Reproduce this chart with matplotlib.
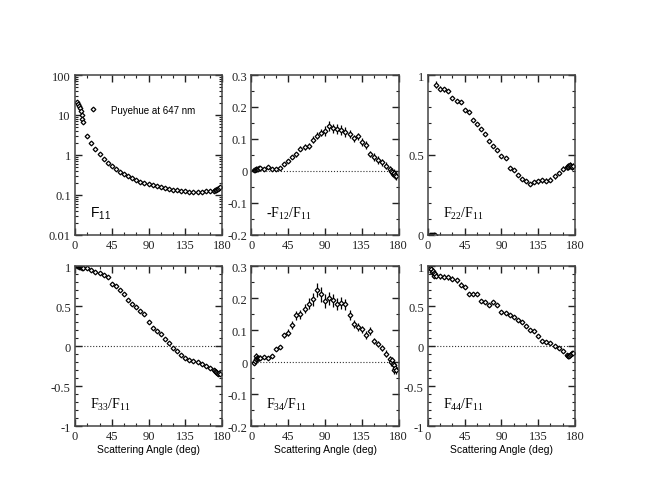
import numpy as np
import matplotlib
matplotlib.use('Agg')
import matplotlib.pyplot as plt
from matplotlib.ticker import MultipleLocator, LogLocator, FuncFormatter, NullFormatter

plt.rcParams['axes.unicode_minus'] = False
plt.rcParams['mathtext.fontset'] = 'custom'
plt.rcParams['mathtext.rm'] = 'Liberation Serif'
plt.rcParams['mathtext.sf'] = 'Liberation Sans'
plt.rcParams['mathtext.it'] = 'Liberation Serif:italic'

# scattering angles (deg)
angles = [3, 4, 5, 6, 7, 8, 9, 10,
          15, 20, 25, 30, 35, 40, 45, 50, 55, 60, 65, 70, 75, 80, 85, 90,
          95, 100, 105, 110, 115, 120, 125, 130, 135, 140, 145, 150, 155, 160,
          165, 170, 171, 172, 173, 174, 175, 176, 177]

f11 = [21, 19, 17, 15, 12.5, 10, 8, 6.5,
       3.0, 1.98, 1.41, 1.06, 0.80, 0.63, 0.52, 0.44, 0.38, 0.33, 0.29, 0.26, 0.237, 0.215, 0.20, 0.185,
       0.175, 0.165, 0.155, 0.147, 0.141, 0.135, 0.130, 0.126, 0.123, 0.120, 0.120, 0.120, 0.120, 0.123,
       0.123, 0.128, 0.130, 0.133, 0.136, 0.140, 0.145, 0.150, 0.155]

f12 = [0.003, 0.004, 0.005, 0.006, 0.006, 0.007, 0.008, 0.008,
       0.006, 0.011, 0.007, 0.007, 0.009, 0.022, 0.032, 0.045, 0.052, 0.069, 0.076, 0.079, 0.098, 0.110, 0.120, 0.125,
       0.141, 0.133, 0.131, 0.129, 0.123, 0.115, 0.102, 0.108, 0.090, 0.081, 0.053, 0.043, 0.035, 0.027,
       0.017, 0.005, 0.000, -0.003, -0.008, -0.010, -0.005, -0.012, -0.015]
f12_err = [0.004, 0.004, 0.004, 0.004, 0.004, 0.004, 0.004, 0.004,
           0.004, 0.004, 0.004, 0.004, 0.004, 0.006, 0.006, 0.006, 0.007, 0.008, 0.009, 0.010, 0.010, 0.011, 0.012, 0.015,
           0.015, 0.015, 0.015, 0.015, 0.016, 0.012, 0.010, 0.010, 0.012, 0.012, 0.010, 0.012, 0.012, 0.010,
           0.010, 0.010, 0.010, 0.012, 0.012, 0.012, 0.012, 0.012, 0.012]

f22 = [0.0, 0.0, 0.0, 0.0, 0.0, 0.0, 0.0, 0.94,
       0.915, 0.91, 0.90, 0.858, 0.838, 0.83, 0.783, 0.767, 0.721, 0.694, 0.663, 0.633, 0.585, 0.554, 0.533, 0.496,
       0.481, 0.419, 0.408, 0.377, 0.350, 0.335, 0.319, 0.331, 0.335, 0.342, 0.340, 0.346, 0.367, 0.388,
       0.415, 0.425, 0.430, 0.425, 0.430, 0.435, 0.430, 0.425, 0.430]
f22_err = [0.008, 0.008, 0.008, 0.008, 0.008, 0.008, 0.008, 0.02,
           0.015, 0.015, 0.015, 0.012, 0.012, 0.012, 0.010, 0.008, 0.008, 0.008, 0.008, 0.008, 0.008, 0.008, 0.008, 0.008,
           0.008, 0.008, 0.008, 0.008, 0.008, 0.008, 0.008, 0.012, 0.015, 0.015, 0.015, 0.015, 0.015, 0.015,
           0.015, 0.020, 0.020, 0.020, 0.020, 0.020, 0.020, 0.020, 0.020]

f33 = [1.0, 1.0, 0.99, 0.99, 0.99, 0.99, 0.98, 0.98,
       0.975, 0.95, 0.93, 0.91, 0.89, 0.86, 0.77, 0.75, 0.70, 0.646, 0.58, 0.52, 0.49, 0.44, 0.40, 0.30,
       0.23, 0.19, 0.146, 0.083, 0.04, -0.03, -0.06, -0.11, -0.146, -0.175, -0.19, -0.20, -0.22, -0.254,
       -0.28, -0.30, -0.31, -0.32, -0.33, -0.34, -0.35, -0.34, -0.35]
f33_err = [0.015] * 8 + [0.02] * 16 + [0.015] * 16 + [0.02] * 7

f34 = [-0.002, 0.003, 0.019, 0.008, 0.014, 0.011, 0.012, 0.014,
       0.017, 0.014, 0.019, 0.040, 0.047, 0.084, 0.092, 0.115, 0.146, 0.149, 0.167, 0.182, 0.196, 0.224, 0.211, 0.190,
       0.199, 0.193, 0.182, 0.184, 0.180, 0.147, 0.118, 0.109, 0.102, 0.084, 0.097, 0.066, 0.057, 0.043,
       0.026, 0.008, 0.000, 0.005, -0.005, -0.010, -0.025, -0.020, -0.025]
f34_err = [0.008, 0.008, 0.010, 0.008, 0.008, 0.008, 0.008, 0.008,
           0.006, 0.006, 0.006, 0.006, 0.006, 0.008, 0.010, 0.012, 0.014, 0.014, 0.015, 0.017, 0.020, 0.022, 0.022, 0.022,
           0.020, 0.020, 0.018, 0.018, 0.018, 0.015, 0.012, 0.012, 0.012, 0.012, 0.012, 0.010, 0.010, 0.010,
           0.010, 0.010, 0.012, 0.012, 0.012, 0.012, 0.012, 0.012, 0.012]

f44 = [0.98, 0.96, 0.92, 0.94, 0.88, 0.91, 0.90, 0.88,
       0.87, 0.867, 0.86, 0.84, 0.82, 0.765, 0.733, 0.655, 0.655, 0.655, 0.567, 0.546, 0.51, 0.546, 0.51, 0.42,
       0.41, 0.39, 0.36, 0.325, 0.296, 0.246, 0.204, 0.183, 0.13, 0.067, 0.054, 0.038, -0.004, -0.03,
       -0.058, -0.11, -0.12, -0.13, -0.12, -0.11, -0.10, -0.09, -0.09]
f44_err = [0.03] * 8 + [0.03] * 6 + [0.02] * 10 + [0.015] * 16 + [0.015] * 7

panel_labels = [r'$\mathsf{F_{11}}$', r'-$\mathrm{F_{12}/F_{11}}$', r'$\mathrm{F_{22}/F_{11}}$',
                r'$\mathrm{F_{33}/F_{11}}$', r'$\mathrm{F_{34}/F_{11}}$', r'$\mathrm{F_{44}/F_{11}}$']
legend_text = 'Puyehue at 647 nm'
xlabel = 'Scattering Angle (deg)'

fig, axes = plt.subplots(2, 3, figsize=(6.5, 5.02), dpi=100)
fig.subplots_adjust(left=0.1154, right=0.8846, top=0.8486, bottom=0.1494,
                    wspace=0.2, hspace=0.194)

fmt = FuncFormatter(lambda v, p: '%g' % v)
mk = dict(marker='D', ms=2.4, mfc='white', mec='black', mew=0.9, ls='none')

ratio_series = [(f12, f12_err), (f22, f22_err), (f33, f33_err), (f34, f34_err), (f44, f44_err)]
ylims = [(-0.2, 0.3), (0, 1), (-1, 1), (-0.2, 0.3), (-1, 1)]
ymaj = [0.1, 0.5, 0.5, 0.1, 0.5]
ymin = [0.05, 0.1, 0.1, 0.05, 0.1]
zero_line = [True, False, True, True, True]

for i, ax in enumerate(axes.flat):
    ax.set_xlim(0, 180)
    ax.xaxis.set_major_locator(MultipleLocator(45))
    ax.xaxis.set_minor_locator(MultipleLocator(15))
    ax.tick_params(which='both', direction='in', top=True, right=True,
                   labelsize=9, colors='#222222', pad=3)
    ax.tick_params(which='major', length=5, width=1)
    ax.tick_params(which='minor', length=2.5, width=0.8)
    for sp in ax.spines.values():
        sp.set_color('#444444')
        sp.set_linewidth(1.1)

    if i == 0:
        ax.plot(angles, f11, label=legend_text, **mk)
        ax.set_yscale('log')
        ax.set_ylim(0.01, 100)
        ax.yaxis.set_major_locator(LogLocator(base=10, numticks=10))
        ax.yaxis.set_minor_locator(LogLocator(base=10, subs=np.arange(2, 10), numticks=10))
        ax.yaxis.set_minor_formatter(NullFormatter())
        ax.yaxis.set_major_formatter(fmt)
        ax.legend(loc='center left', bbox_to_anchor=(0.086, 0.783), frameon=False,
                  borderpad=0, borderaxespad=0, handlelength=1.0, handletextpad=1.45,
                  prop={'family': 'Liberation Sans', 'size': 7})
    else:
        vals, errs = ratio_series[i - 1]
        lo, hi = ylims[i - 1]
        if zero_line[i - 1]:
            ax.axhline(0, color='#333333', ls=':', lw=0.8, zorder=0)
        ax.errorbar(angles, vals, yerr=errs, ecolor='black', elinewidth=0.9,
                    capsize=0, **mk)
        ax.set_ylim(lo, hi)
        ax.yaxis.set_major_locator(MultipleLocator(ymaj[i - 1]))
        ax.yaxis.set_minor_locator(MultipleLocator(ymin[i - 1]))
        ax.yaxis.set_major_formatter(fmt)
    ax.xaxis.set_major_formatter(fmt)
    for lab in ax.get_xticklabels() + ax.get_yticklabels():
        lab.set_family('Liberation Serif')

    ax.text(0.10, 0.09, panel_labels[i], transform=ax.transAxes, fontsize=10,
            ha='left', va='bottom', family='Liberation Serif')
    if i >= 3:
        ax.set_xlabel(xlabel, family='Liberation Sans', fontsize=7.5, labelpad=1)

fig.savefig('out.png', dpi=100, facecolor='white')
